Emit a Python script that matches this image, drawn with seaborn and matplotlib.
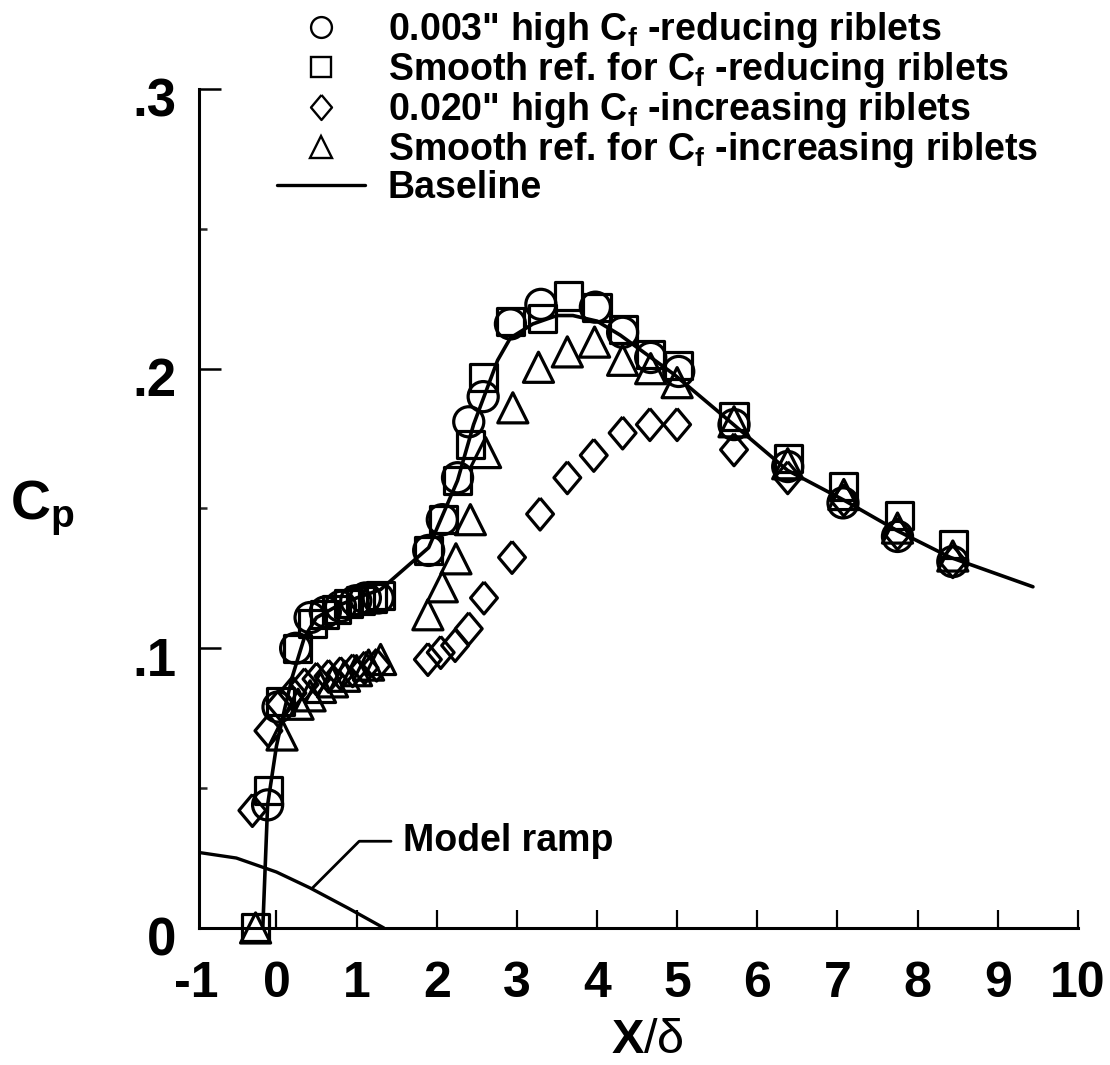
import numpy as np
import pandas as pd
import matplotlib
matplotlib.use("Agg")
import matplotlib.pyplot as plt
import matplotlib.transforms as mtransforms
from matplotlib.lines import Line2D
import seaborn as sns

# ---------------- data ----------------
circ_x = [-0.11, 0.02, 0.24, 0.42, 0.61, 0.80, 0.99, 1.11, 1.27, 1.90, 2.07, 2.26, 2.40,
          2.58, 2.92, 3.30, 3.98, 4.32, 4.67, 5.02, 5.71, 6.38, 7.07, 7.75, 8.44]
circ_y = [0.044, 0.079, 0.100, 0.111, 0.113, 0.115, 0.117, 0.118, 0.118, 0.135, 0.146, 0.161, 0.181,
          0.190, 0.216, 0.223, 0.222, 0.213, 0.204, 0.199, 0.180, 0.165, 0.152, 0.140, 0.131]

sq_x = [-0.26, -0.10, 0.05, 0.26, 0.45, 0.60, 0.75, 0.90, 1.05, 1.20, 1.30, 1.90, 2.08, 2.26,
        2.42, 2.58, 2.92, 3.32, 3.65, 4.00, 4.33, 4.67, 5.02, 5.71, 6.39, 7.08, 7.77, 8.45]
sq_y = [0.000, 0.049, 0.081, 0.100, 0.109, 0.112, 0.114, 0.116, 0.117, 0.118, 0.119, 0.135, 0.146, 0.160,
        0.173, 0.197, 0.217, 0.218, 0.226, 0.222, 0.214, 0.205, 0.201, 0.183, 0.168, 0.158, 0.1475, 0.137]

dia_x = [-0.30, -0.10, 0.05, 0.20, 0.35, 0.50, 0.65, 0.80, 0.95, 1.10, 1.25, 1.89, 2.05, 2.23,
         2.40, 2.59, 2.94, 3.29, 3.63, 3.96, 4.32, 4.66, 5.00, 5.71, 6.38, 7.08, 7.75, 8.44]
dia_y = [0.042, 0.0705, 0.080, 0.084, 0.087, 0.089, 0.090, 0.091, 0.092, 0.093, 0.094, 0.096, 0.0985, 0.101,
         0.107, 0.118, 0.1325, 0.148, 0.161, 0.169, 0.177, 0.180, 0.180, 0.171, 0.161, 0.153, 0.141, 0.131]

tri_x = [-0.26, 0.07, 0.27, 0.42, 0.55, 0.70, 0.85, 1.00, 1.15, 1.30, 1.89, 2.07, 2.24, 2.42,
         2.61, 2.95, 3.27, 3.63, 3.97, 4.32, 4.67, 5.00, 5.71, 6.38, 7.08, 7.75, 8.44]
tri_y = [0.000, 0.069, 0.080, 0.083, 0.086, 0.088, 0.090, 0.092, 0.094, 0.096, 0.112, 0.122, 0.132, 0.146,
         0.170, 0.186, 0.2005, 0.206, 0.2095, 0.203, 0.200, 0.195, 0.181, 0.166, 0.155, 0.143, 0.133]

base_x = [-0.17, -0.11, 0.00, 0.10, 0.20, 0.35, 0.50, 0.75, 1.00, 1.30, 1.90, 2.26, 2.46, 2.76,
          2.92, 3.20, 3.50, 3.70, 4.00, 4.29, 4.96, 5.54, 6.38, 7.08, 7.75, 8.41, 9.44]
base_y = [0.000, 0.044, 0.065, 0.078, 0.090, 0.104, 0.111, 0.115, 0.118, 0.121, 0.136, 0.160, 0.180, 0.203,
          0.211, 0.216, 0.219, 0.219, 0.217, 0.212, 0.198, 0.184, 0.1636, 0.153, 0.142, 0.1325, 0.122]

ramp_x = [-0.97, -0.50, 0.00, 0.42, 0.90, 1.34]
ramp_y = [0.027, 0.025, 0.020, 0.0143, 0.007, 0.000]

series_labels = ['0.003" high $\\mathregular{C_f}$ -reducing riblets',
                 'Smooth ref. for $\\mathregular{C_f}$ -reducing riblets',
                 '0.020" high $\\mathregular{C_f}$ -increasing riblets',
                 'Smooth ref. for $\\mathregular{C_f}$ -increasing riblets',
                 'Baseline']
x_ticks = [0, 1, 2, 3, 4, 5, 6, 7, 8, 9, 10]
y_ticks = [0.0, 0.1, 0.2, 0.3]
y_tick_labels = ['0', '.1', '.2', '.3']
y_minor = [0.05, 0.15, 0.25]

# ---------------- style ----------------
sns.set_style("ticks")
plt.rcParams['font.family'] = ['Liberation Sans', 'DejaVu Sans']
plt.rcParams['font.weight'] = 'bold'
plt.rcParams['text.color'] = 'black'
plt.rcParams['axes.labelcolor'] = 'black'
plt.rcParams['mathtext.fontset'] = 'custom'
plt.rcParams['mathtext.rm'] = 'Liberation Sans:bold'
plt.rcParams['mathtext.it'] = 'Liberation Sans:bold'
plt.rcParams['mathtext.bf'] = 'Liberation Sans:bold'
plt.rcParams['mathtext.sf'] = 'Liberation Sans:weight=normal'

DPI = 100
fig = plt.figure(figsize=(11.10, 10.65), dpi=DPI)
ax = fig.add_axes([0.179, 0.1287, 0.792, 0.7877])

diamond = [(0, 1), (0.84, 0), (0, -1), (-0.84, 0), (0, 1)]
mlw = 2.3
common = dict(facecolors='none', edgecolor='black', linewidth=mlw, legend=False, ax=ax,
              zorder=3, clip_on=False)

sns.lineplot(x=base_x, y=base_y, color='black', linewidth=2.6, sort=False, estimator=None, ax=ax, zorder=2)
sns.lineplot(x=ramp_x, y=ramp_y, color='black', linewidth=2.4, sort=False, estimator=None, ax=ax, zorder=2)

sns.scatterplot(x=circ_x, y=circ_y, marker='o', s=470, **common)
sns.scatterplot(x=sq_x, y=sq_y, marker='s', s=380, **common)
sns.scatterplot(x=dia_x, y=dia_y, marker=diamond, s=530, **common)
sns.scatterplot(x=tri_x, y=tri_y, marker='^', s=470, **common)

ax.set_xlim(-0.97, 10.0)
ax.set_ylim(0.0, 0.3)
for sp in ['top', 'right']:
    ax.spines[sp].set_visible(False)
for sp in ['left', 'bottom']:
    ax.spines[sp].set_linewidth(2.2)
    ax.spines[sp].set_color('black')

ax.set_xticks(x_ticks)
ax.set_xticklabels([str(t) for t in x_ticks])
ax.set_yticks(y_ticks)
ax.set_yticklabels(y_tick_labels)
ax.set_yticks(y_minor, minor=True)
ax.tick_params(axis='x', which='major', direction='in', length=13, width=1.6,
               labelsize=36, pad=24, colors='black')
ax.tick_params(axis='y', which='major', direction='in', length=16, width=1.8,
               labelsize=38, pad=16, colors='black')
ax.tick_params(axis='y', which='minor', direction='in', length=6, width=1.8)
ax.tick_params(axis='x', which='minor', bottom=False)

# y tick labels sit slightly below their ticks in the reference
shift = mtransforms.ScaledTranslation(0, -8 / DPI, fig.dpi_scale_trans)
for lab in ax.get_yticklabels():
    lab.set_transform(lab.get_transform() + shift)

# "-1" label at the left end of the axis
ax.annotate('-1', xy=(-1.0, 0), xycoords=ax.get_xaxis_transform(),
            xytext=(0, -24), textcoords='offset points', color='black',
            ha='center', va='top', fontsize=36, fontweight='bold', annotation_clip=False)

ax.set_xlabel('X$\\mathsf{/δ}$', fontsize=35, fontweight='bold', va='center', color='black')
ax.xaxis.set_label_coords(0.511, -(1040 - 927) / (0.7877 * 1065))
ax.set_ylabel('C$_\\mathregular{p}$', fontsize=40, fontweight='bold', rotation=0,
              va='center', ha='center', color='black')
ax.yaxis.set_label_coords(-0.178, 0.50)

# Model ramp annotation
ax.annotate('Model ramp', xy=(0.45, 0.0143), xytext=(1.575, 0.031), textcoords='data',
            fontsize=27, fontweight='bold', ha='left', va='center', color='black',
            arrowprops=dict(arrowstyle='-', color='black', lw=2.0, shrinkA=6, shrinkB=0,
                            connectionstyle='angle,angleA=0,angleB=45,rad=0'))

# Legend
handles = [Line2D([], [], marker='o', ls='none', mfc='none', mec='black', mew=1.7, ms=15),
           Line2D([], [], marker='s', ls='none', mfc='none', mec='black', mew=1.7, ms=14),
           Line2D([], [], marker=diamond, ls='none', mfc='none', mec='black', mew=1.7, ms=18),
           Line2D([], [], marker='^', ls='none', mfc='none', mec='black', mew=1.7, ms=16),
           Line2D([], [], color='black', lw=2.4)]
leg = ax.legend(handles, series_labels, loc='upper left',
                bbox_to_anchor=(277 / 1110, 1 - 10 / 1065), bbox_transform=fig.transFigure,
                frameon=False, fontsize=27, labelspacing=-0.0, handlelength=2.35,
                handletextpad=0.6, borderaxespad=0, borderpad=0, labelcolor='black')

fig.savefig('out.png', dpi=DPI, facecolor='white')
